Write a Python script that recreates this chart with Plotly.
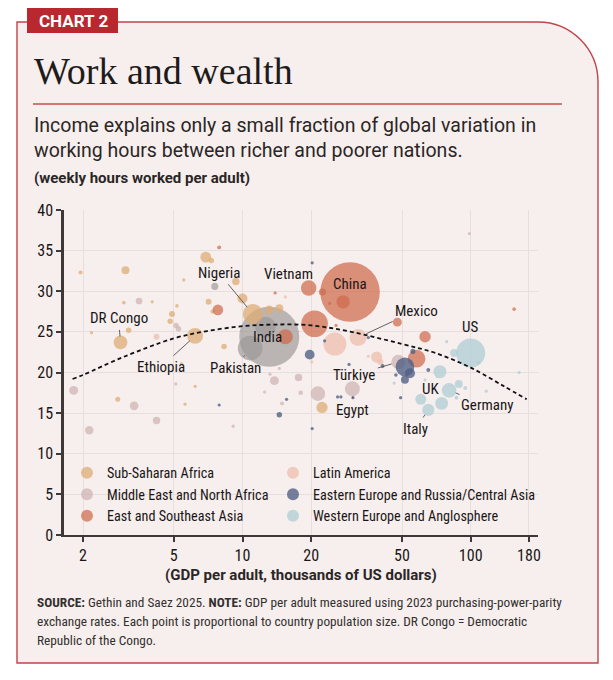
import math
import plotly.graph_objects as go

# ---------------- data ----------------
# GDP per adult (thousands of 2023 PPP US$), weekly hours per adult, population (millions)
ssa_names = ["", "", "", "", "", "DR Congo", "", "", "", "", "", "Ethiopia", "", "", "", "",
             "", "", "", "", "", "Nigeria", "", "", "", "", ""]
ssa_gdp = [1.95, 3.07, 3.02, 4.02, 2.18, 2.92, 3.17, 4.91, 5.16, 4.82, 5.53, 6.2, 5.4, 6.2, 2.84, 5.6,
           6.9, 7.3, 9.35, 7.1, 7.4, 11.1, 10.0, 8.3, 13.1, 14.5, 22.3]
ssa_hours = [32.3, 32.6, 28.6, 28.7, 24.9, 23.7, 25.2, 27.2, 28.2, 26.3, 31.4, 24.5, 21.1, 18.3, 16.7, 16.1,
             34.2, 33.8, 31.2, 28.7, 27.5, 27.2, 29.1, 23.2, 27.7, 27.9, 15.7]
ssa_pop = [6, 25, 5, 1.5, 2, 75, 12, 14, 5, 12, 1.5, 100, 2, 1.5, 10, 1.5,
           45, 12, 22, 14, 8, 160, 40, 12, 30, 25, 50]

mena_names = ["", "", "", "", "", "", "", "", "", "", "", "", "", "Egypt", "", "Türkiye", "", "", "", ""]
mena_gdp = [3.52, 5.11, 5.24, 5.1, 1.82, 3.35, 4.2, 2.13, 9.1, 13.8, 17.6, 18.0, 21.4, 30.3, 14.9, 48.2,
            98.7, 13.2, 14.5, 12.5]
mena_hours = [28.8, 25.8, 25.4, 18.6, 17.8, 15.9, 14.1, 12.9, 13.4, 19.0, 19.4, 17.5, 17.4, 18.0, 16.2, 21.3,
              37.1, 19.8, 20.5, 17.6]
mena_pop = [18, 12, 12, 3, 32, 30, 22, 28, 2, 32, 22, 8, 85, 90, 6, 80,
            4, 1.5, 1.5, 1.5]

esea_names = ["", "", "", "", "Vietnam", "", "China", "", "", "", "", "", "", "", ""]
esea_gdp = [7.9, 7.8, 13.9, 15.4, 19.5, 20.7, 29.6, 27.6, 22.4, 24.1, 25.7, 47.7, 63.1, 57.9, 155]
esea_hours = [35.4, 27.7, 29.8, 24.4, 30.4, 26.0, 29.9, 28.7, 29.9, 28.5, 25.8, 26.2, 24.4, 21.7, 27.8]
esea_pop = [6, 45, 2, 90, 95, 280, 1410, 70, 20, 3, 3, 32, 52, 125, 5]

sas_names = ["India", "Pakistan", "", ""]
sas_gdp = [13.1, 10.8, 12.6, 7.56]
sas_hours = [24.4, 23.0, 25.6, 30.6]
sas_pop = [1430, 240, 170, 20]

lat_names = ["", "", "", "Mexico", "", "", "", ""]
lat_gdp = [4.2, 15.4, 25.4, 32.1, 38.7, 40.2, 35.6, 20.1]
lat_hours = [24.4, 29.3, 23.5, 24.3, 21.9, 21.3, 22.0, 21.3]
lat_pop = [14, 2, 210, 115, 50, 14, 3, 3]

eeu_names = [""] * 20
eeu_gdp = [7.9, 14.5, 15.6, 19.7, 22.9, 35.6, 26.1, 27.0, 30.5, 29.3, 41.1, 51.5, 54.2, 47.0, 51.5, 55.8,
           65.2, 49.3, 20.2, 20.2]
eeu_hours = [16.0, 14.8, 16.7, 22.2, 23.9, 24.3, 17.0, 17.0, 16.9, 21.0, 20.8, 20.7, 19.9, 19.7, 19.1, 22.6,
             20.3, 16.9, 13.1, 33.5]
eeu_pop = [3, 12, 2, 38, 2, 4, 1.5, 1.5, 4, 3, 6, 140, 40, 5, 25, 10,
           6, 2, 2, 1.5]

weu_names = ["US", "", "", "UK", "Germany", "", "", "", "Italy", "", "", "", "", "", "", ""]
weu_gdp = [100, 78.5, 84.6, 73.3, 80.4, 88.7, 94.7, 74.6, 65.2, 60.4, 86.6, 117, 163, 108, 46.2, 63.1]
weu_hours = [22.4, 23.8, 22.4, 20.1, 17.8, 18.6, 18.1, 16.2, 15.4, 16.7, 16.9, 17.7, 20.0, 21.2, 18.7, 19.1]
weu_pop = [335, 2, 25, 68, 84, 25, 6, 66, 59, 48, 6, 4, 3, 6, 3, 2]

# dashed trend curve
trend_gdp = [1.8, 2, 3, 5, 7, 10, 14, 20, 30, 50, 70, 100, 140, 176]
trend_hours = [19.2, 19.7, 21.9, 24.2, 25.1, 25.7, 25.9, 25.8, 25.0, 23.5, 22.4, 20.6, 18.3, 16.7]

x_tickvals = [2, 5, 10, 20, 50, 100, 180]
x_ticktext = ["2", "5", "10", "20", "50", "100", "180"]
y_tickvals = [0, 5, 10, 15, 20, 25, 30, 35, 40]

# ---------------- styling ----------------
W, H = 613, 680
ML, MR, MT, MB = 64, 75, 210, 145
PW, PH = W - ML - MR, H - MT - MB

COND = "Liberation Sans Narrow, Arial Narrow, Roboto Condensed, Roboto, sans-serif"
SANS = "Roboto, Inter, sans-serif"
SERIF = "Liberation Serif, DejaVu Serif, serif"
INK = "#1a1617"
RED = "#b8282e"
PANEL = "#f7efed"
GRID = "#e7dfdd"
AXIS = "#3f3838"


def px_x(p):
    return (p - ML) / PW


def px_y(p):
    return (H - MB - p) / PH


SIZEREF = 1430 / 1800.0

regions = [
    # name, names, gdp, hours, pop, color, opacity, legend id
    ("Sub-Saharan Africa", ssa_names, ssa_gdp, ssa_hours, ssa_pop, "#dfac74", 0.74, "legend"),
    ("Middle East and North Africa", mena_names, mena_gdp, mena_hours, mena_pop, "#cdb3b3", 0.72, "legend"),
    ("East and Southeast Asia", esea_names, esea_gdp, esea_hours, esea_pop, "#cf6a4b", 0.72, "legend"),
    ("Latin America", lat_names, lat_gdp, lat_hours, lat_pop, "#eebfac", 0.75, "legend2"),
    ("Eastern Europe and Russia/Central Asia", eeu_names, eeu_gdp, eeu_hours, eeu_pop, "#4e5d83", 0.78, "legend2"),
    ("Western Europe and Anglosphere", weu_names, weu_gdp, weu_hours, weu_pop, "#b2ced5", 0.78, "legend2"),
    ("South Asia", sas_names, sas_gdp, sas_hours, sas_pop, "#9c9898", 0.68, None),
]

fig = go.Figure()

# draw order: big grey South Asia first
order = [6, 0, 1, 3, 2, 4, 5]
for i in order:
    name, names, gx, hy, pop, col, op, leg = regions[i]
    fig.add_trace(go.Scatter(
        x=gx, y=hy, mode="markers", name=name, text=names,
        showlegend=leg is not None, legend=leg or "legend", legendrank=i + 1,
        marker=dict(size=pop, sizemode="area", sizeref=SIZEREF, sizemin=1.6,
                    color=col, opacity=op, line=dict(width=0)),
        hoverinfo="text+x+y",
    ))

fig.add_trace(go.Scatter(
    x=trend_gdp, y=trend_hours, mode="lines", showlegend=False,
    line=dict(color="#111111", width=1.8, dash="4px,3px", shape="spline"),
    hoverinfo="skip",
))

# ---------------- labels ----------------
lookup = {}
for name, names, gx, hy, pop, col, op, leg in regions:
    for n, a, b in zip(names, gx, hy):
        if n:
            lookup[n] = (a, b)

LABEL_FONT = dict(family=COND, size=15, color=INK)
# (country, ax, ay, standoff) for labels with a leader line
arrow_labels = [
    ("Nigeria", -34, -41, 9),
    ("DR Congo", -2, -24, 6),
    ("Ethiopia", -34, 31, 7),
    ("Pakistan", -15, 20, 9),
    ("Mexico", 58, -27, 9),
    ("Türkiye", -44, 13, 7),
    ("Egypt", 0, 21, 8),
    ("UK", -9, 17, 6),
    ("Germany", 38, 15, 7),
    ("Italy", -13, 19, 6),
]
annotations = []
for n, ax, ay, so in arrow_labels:
    x, y = lookup[n]
    annotations.append(dict(
        x=math.log10(x), y=y, xref="x", yref="y", text=n, font=LABEL_FONT,
        showarrow=True, arrowhead=0, arrowwidth=0.9, arrowcolor="#555050",
        ax=ax, ay=ay, standoff=so, startstandoff=1,
    ))
# labels without leader line: (country, xshift, yshift)
plain_labels = [("Vietnam", -20, 14), ("China", 0, 8), ("India", -2, 0), ("US", -1, 26)]
for n, xs, ys in plain_labels:
    x, y = lookup[n]
    annotations.append(dict(
        x=math.log10(x), y=y, xref="x", yref="y", text=n, font=LABEL_FONT,
        showarrow=False, xshift=xs, yshift=ys,
    ))


# ---------------- header / footer texts ----------------
def txt(text, xp, yp, size, family, color=INK, xanchor="left"):
    annotations.append(dict(
        text=text, x=px_x(xp), y=px_y(yp), xref="paper", yref="paper",
        xanchor=xanchor, yanchor="middle", showarrow=False, align="left",
        font=dict(size=size, family=family, color=color),
    ))


txt("<b>CHART 2</b>", 73, 20.5, 17, SANS, color="white", xanchor="center")
txt("Work and wealth", 32, 71, 38, SERIF, color="#1e1b1b")
txt("Income explains only a small fraction of global variation in", 32, 125, 19.5, SANS, color="#2a2626")
txt("working hours between richer and poorer nations.", 32, 150, 19.5, SANS, color="#2a2626")
txt("<b>(weekly hours worked per adult)</b>", 32, 178, 15, SANS, color="#2a2626")
txt("<b>(GDP per adult, thousands of US dollars)</b>", 301, 575, 15, SANS, color="#2a2626", xanchor="center")
txt("<b>SOURCE:</b> Gethin and Saez 2025. <b>NOTE:</b> GDP per adult measured using 2023 purchasing-power-parity",
    35, 602, 13.3, COND, color="#333030")
txt("exchange rates. Each point is proportional to country population size. DR Congo = Democratic",
    35, 621, 13.3, COND, color="#333030")
txt("Republic of the Congo.", 35, 640, 13.3, COND, color="#333030")

# ---------------- shapes ----------------
X0, X1 = px_x(17), px_x(598)
Y0, Y1 = px_y(663), px_y(22)
rx, ry = 60 / PW, 60 / PH
k = 0.448
panel_path = (f"M {X0},{Y0} L {X0},{Y1} L {X1 - rx},{Y1} "
              f"C {X1 - rx * k},{Y1} {X1},{Y1 - ry * k} {X1},{Y1 - ry} "
              f"L {X1},{Y0} Z")
shapes = [
    dict(type="path", path=panel_path, xref="paper", yref="paper", layer="below",
         fillcolor=PANEL, line=dict(color="#c0454a", width=1.4)),
    dict(type="rect", xref="paper", yref="paper", layer="above",
         x0=px_x(27), x1=px_x(118), y0=px_y(33), y1=px_y(8),
         fillcolor=RED, line=dict(width=0)),
    dict(type="line", xref="paper", yref="paper", layer="above",
         x0=px_x(33), x1=px_x(562), y0=px_y(104), y1=px_y(104),
         line=dict(color="#c9504a", width=1.3)),
]

LEG_FONT = dict(family=COND, size=14.2, color=INK)
common_leg = dict(orientation="v", xanchor="left", yanchor="top", traceorder="normal",
                  font=LEG_FONT, bgcolor="rgba(0,0,0,0)", itemsizing="constant",
                  tracegroupgap=0, itemclick=False, itemdoubleclick=False)

fig.update_layout(
    width=W, height=H,
    margin=dict(l=ML, r=MR, t=MT, b=MB, pad=0),
    paper_bgcolor="white", plot_bgcolor="rgba(0,0,0,0)",
    font=dict(family=COND, color=INK),
    showlegend=True,
    legend=dict(x=px_x(67), y=px_y(457), **common_leg),
    legend2=dict(x=px_x(273), y=px_y(457), **common_leg),
    xaxis=dict(
        type="log", range=[0.2177, 2.295], tickvals=x_tickvals, ticktext=x_ticktext,
        showgrid=True, gridcolor=GRID, gridwidth=1, zeroline=False,
        showline=True, linecolor=AXIS, linewidth=2, ticks="outside", ticklen=5,
        tickcolor=AXIS, tickwidth=1.5, tickfont=dict(family=COND, size=16, color=INK),
    ),
    yaxis=dict(
        range=[0, 40], tickvals=y_tickvals, showgrid=True, gridcolor=GRID, gridwidth=1,
        zeroline=False, showline=True, linecolor=AXIS, linewidth=2.5, ticks="outside",
        ticklen=5, tickcolor=AXIS, tickwidth=1.5, tickfont=dict(family=COND, size=16, color=INK),
    ),
    annotations=annotations,
    shapes=shapes,
)

fig.write_html(
    "out.html",
    config={"displayModeBar": False},
    post_script="document.body.style.margin='0';document.body.style.overflow='hidden';",
)
